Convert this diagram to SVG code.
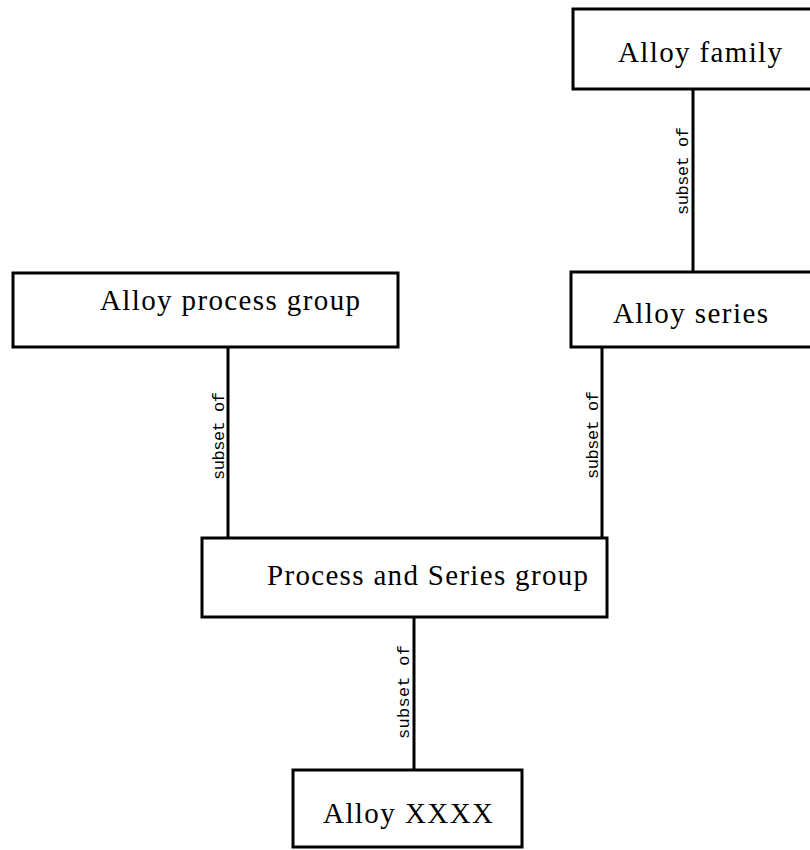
<svg xmlns="http://www.w3.org/2000/svg" width="810" height="850" viewBox="0 0 810 850">
<style>
.box{fill:#fff;stroke:#000;stroke-width:3}
.lbl{font-family:"Liberation Serif","Times New Roman",serif;font-size:29px;fill:#000}
.con{stroke:#000;stroke-width:3;fill:none}
.rel{font-family:"Liberation Mono","Courier New",monospace;font-size:17px;fill:#000;text-anchor:middle}
</style>
<rect width="810" height="850" fill="#fff"/>
<g id="connectors">
<line class="con" x1="693" y1="89" x2="693" y2="272"/>
<line class="con" x1="228" y1="347" x2="228" y2="538"/>
<line class="con" x1="602" y1="347" x2="602" y2="538"/>
<line class="con" x1="414" y1="617" x2="414" y2="770"/>
<text class="rel" transform="translate(688,171) rotate(-90)" textLength="88">subset of</text>
<text class="rel" transform="translate(224,436) rotate(-90)" textLength="88">subset of</text>
<text class="rel" transform="translate(598,435) rotate(-90)" textLength="88">subset of</text>
<text class="rel" transform="translate(409,692) rotate(-90)" textLength="94">subset of</text>
</g>
<g id="alloy-family">
<rect class="box" x="573" y="9" width="245" height="80"/>
<text class="lbl" x="618" y="62" textLength="164">Alloy family</text>
</g>
<g id="alloy-series">
<rect class="box" x="571" y="272" width="247" height="75"/>
<text class="lbl" x="613" y="323" textLength="155">Alloy series</text>
</g>
<g id="alloy-process-group">
<rect class="box" x="13" y="273" width="385" height="74"/>
<text class="lbl" x="100" y="310" textLength="260">Alloy process group</text>
</g>
<g id="process-series-group">
<rect class="box" x="202" y="538" width="405" height="79"/>
<text class="lbl" x="267" y="585" textLength="321">Process and Series group</text>
</g>
<g id="alloy-xxxx">
<rect class="box" x="293" y="770" width="229" height="77"/>
<text class="lbl" x="323" y="823" textLength="170">Alloy XXXX</text>
</g>
</svg>
